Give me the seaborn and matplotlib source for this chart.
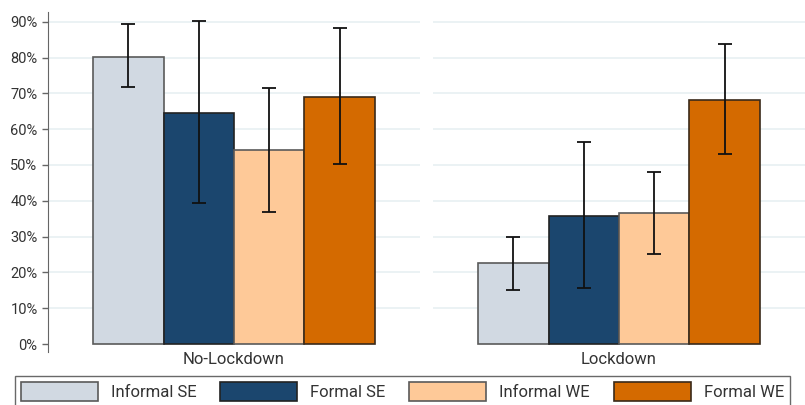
import pandas as pd
import matplotlib.pyplot as plt
import seaborn as sns
from matplotlib.ticker import PercentFormatter

# Values
periods = ["No-Lockdown", "Lockdown"]
types = ["Informal SE", "Formal SE", "Informal WE", "Formal WE"]
share_nolock = [0.802, 0.645, 0.542, 0.690]
low_nolock = [0.718, 0.394, 0.370, 0.503]
high_nolock = [0.893, 0.902, 0.716, 0.883]
share_lock = [0.226, 0.358, 0.366, 0.682]
low_lock = [0.151, 0.157, 0.252, 0.531]
high_lock = [0.300, 0.563, 0.480, 0.838]

colors = ["#d1d9e2", "#1b466e", "#fec998", "#d46a00"]
edges = ["#5a5a5a", "#222222", "#5a5a5a", "#3a2a1a"]

sns.set_style("white")
plt.rcParams['font.family'] = ['Roboto', 'DejaVu Sans']

fig = plt.figure(figsize=(8.05, 4.05), dpi=100)
ax1 = fig.add_axes([48 / 805, 53 / 405, 372 / 805, 340 / 405])
ax2 = fig.add_axes([433 / 805, 53 / 405, 372 / 805, 340 / 405], sharey=ax1)

panels = [
    (ax1, periods[0], share_nolock, low_nolock, high_nolock),
    (ax2, periods[1], share_lock, low_lock, high_lock),
]

for ax, period, vals, lo, hi in panels:
    df = pd.DataFrame({"period": period, "type": types, "share": vals})
    sns.barplot(data=df, x="period", y="share", hue="type", hue_order=types,
                palette=colors, saturation=1, width=1.0, errorbar=None,
                ax=ax, legend=True)
    bars = list(ax.containers)
    for i, cont in enumerate(bars):
        for p in cont.patches:
            p.set_edgecolor(edges[i])
            p.set_linewidth(1.2)
            cx = p.get_x() + p.get_width() / 2
            h = p.get_height()
            ax.errorbar(cx, h, yerr=[[h - lo[i]], [hi[i] - h]], fmt='none',
                        ecolor='#111111', elinewidth=1.3, capsize=5, capthick=1.3,
                        zorder=5)
    ax.set_xlim(-0.66, 0.66)
    ax.set_ylim(-0.022, 0.927)
    ax.set_yticks([i / 10 for i in range(10)])
    ax.yaxis.set_major_formatter(PercentFormatter(1.0, decimals=0))
    ax.set_xlabel("")
    ax.set_ylabel("")
    ax.tick_params(axis='x', length=0, labelsize=12, colors='#333333', pad=0)
    for y in [i / 10 for i in range(1, 10)]:
        ax.axhline(y, color='#e8f0f2', linewidth=1.2, zorder=0)
    ax.set_axisbelow(True)
    for s in ax.spines.values():
        s.set_visible(False)

handles, labels = ax1.get_legend_handles_labels()
for ax in (ax1, ax2):
    ax.get_legend().remove()

ax1.spines['left'].set_visible(True)
ax1.spines['left'].set_color('#666666')
ax1.tick_params(axis='y', length=4, width=1, color='#666666', labelsize=10.5,
                labelcolor='#333333', left=True)
ax2.tick_params(axis='y', left=False, labelleft=False)

for h, c, col in zip(handles, edges, colors):
    h.set_facecolor(col)
    h.set_edgecolor(c)
    h.set_linewidth(1.2)

leg = fig.legend(handles, labels, loc='lower left', ncol=4,
                 bbox_to_anchor=(15 / 805, -2 / 405, 775 / 805, 34 / 405),
                 mode='expand', frameon=True, fancybox=False,
                 handlelength=4.6, handleheight=1.4, handletextpad=0.8,
                 fontsize=12, borderaxespad=0, borderpad=0.35)
leg.get_frame().set_edgecolor('#444444')
leg.get_frame().set_linewidth(1.0)
for t in leg.get_texts():
    t.set_color('#333333')

fig.savefig("out.png", dpi=100)
